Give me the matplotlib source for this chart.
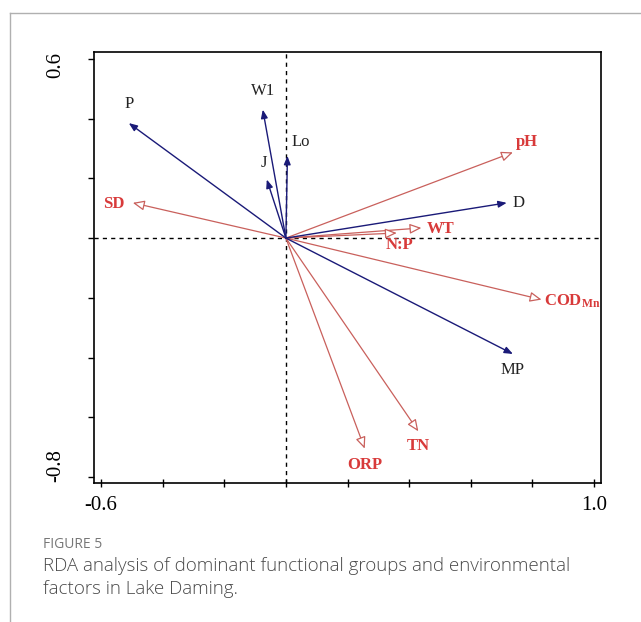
import matplotlib
matplotlib.use("Agg")
import matplotlib.pyplot as plt
from matplotlib.lines import Line2D

# species (functional groups) -- blue filled arrows
sp_names = ["P", "W1", "Lo", "J", "D", "MP"]
sp_x = [-0.51, -0.075, 0.005, -0.062, 0.717, 0.737]
sp_y = [0.385, 0.43, 0.275, 0.196, 0.118, -0.388]

# environmental factors -- red open arrows
env_names = ["pH", "WT", "N:P", "SD", "COD$_{\\mathrm{Mn}}$", "TN", "ORP"]
env_x = [0.737, 0.44, 0.36, -0.497, 0.83, 0.43, 0.256]
env_y = [0.287, 0.034, 0.017, 0.118, -0.206, -0.647, -0.705]

# label offsets (points) and alignment
sp_lab = [((0, 8), "center", "bottom"), ((0, 8), "center", "bottom"),
          ((3, 4), "left", "bottom"), ((-2, 6), "center", "bottom"),
          ((4, 0), "left", "center"), ((0, -6), "center", "top")]
env_lab = [((2, 2), "left", "bottom"), ((4, -1), "left", "center"),
           ((2, -3), "center", "top"), ((-6, -1), "right", "center"),
           ((2, -1), "left", "center"), ((0, -5), "center", "top"),
           ((0, -6), "center", "top")]

blue = "#1a1a78"
red_line = "#c9605c"
red_txt = "#d83a3a"

plt.rcParams["mathtext.fontset"] = "custom"
plt.rcParams["mathtext.rm"] = "Liberation Serif:bold"
plt.rcParams["mathtext.it"] = "Liberation Serif:bold"

fig = plt.figure(figsize=(6.41, 6.22), dpi=100)
ax = fig.add_axes([94 / 641, 1 - 483 / 622, 507 / 641, 431 / 622])

ax.set_xlim(-0.623, 1.023)
ax.set_ylim(-0.820, 0.623)
ax.axhline(0, color="black", lw=1, ls=(0, (3, 3)), zorder=1)
ax.axvline(0, color="black", lw=1, ls=(0, (3, 3)), zorder=1)

for n, x, y, (off, ha, va) in zip(env_names, env_x, env_y, env_lab):
    ax.annotate("", xy=(x, y), xytext=(0, 0),
                arrowprops=dict(arrowstyle="-|>,head_length=0.7,head_width=0.3",
                                color=red_line, fc="white", lw=0.9,
                                shrinkA=0, shrinkB=0))
    t = ax.annotate(n, xy=(x, y), xytext=off, textcoords="offset points",
                    ha=ha, va=va, color=red_txt, fontsize=12, fontweight="bold",
                    family="Liberation Serif")
    t.set_clip_on(True)

for n, x, y, (off, ha, va) in zip(sp_names, sp_x, sp_y, sp_lab):
    ax.annotate("", xy=(x, y), xytext=(0, 0),
                arrowprops=dict(arrowstyle="-|>,head_length=0.5,head_width=0.2",
                                color=blue, lw=1.0, shrinkA=0, shrinkB=0))
    ax.annotate(n, xy=(x, y), xytext=off, textcoords="offset points",
                ha=ha, va=va, color="#222222", fontsize=12,
                family="Liberation Serif")

xt = [-0.6, -0.4, -0.2, 0.0, 0.2, 0.4, 0.6, 0.8, 1.0]
yt = [0.6, 0.4, 0.2, 0.0, -0.2, -0.4, -0.6, -0.8]
ax.set_xticks(xt)
ax.set_xticklabels(["-0.6", "", "", "", "", "", "", "", "1.0"])
ax.set_yticks(yt)
ax.set_yticklabels([])
ax.tick_params(axis="x", direction="inout", length=6, width=1, pad=6,
               labelsize=15)
ax.tick_params(axis="y", direction="out", length=4, width=1)
for lab in ax.get_xticklabels():
    lab.set_family("Liberation Serif")
# y end labels, placed like the original (rotated)
ax.text(-0.075, 0.58, "0.6", transform=ax.get_yaxis_transform(), rotation=90,
        ha="center", va="center", fontsize=15, family="Liberation Serif")
ax.text(-0.075, -0.76, "-0.8", transform=ax.get_yaxis_transform(), rotation=90,
        ha="center", va="center", fontsize=15, family="Liberation Serif")
for s in ax.spines.values():
    s.set_linewidth(1.2)

# frame of the figure panel
fig.add_artist(Line2D([10 / 641, 1], [1 - 13 / 622] * 2, color="#b0b0b0", lw=1))
fig.add_artist(Line2D([10 / 641] * 2, [0, 1 - 13 / 622], color="#b0b0b0", lw=1))

fig.text(43 / 641, 1 - 545 / 622, "FIGURE 5", color="#777777", fontsize=10,
         family="Open Sans", va="center")
fig.text(43 / 641, 1 - 566 / 622,
         "RDA analysis of dominant functional groups and environmental",
         color="#4a4a4a", fontsize=13.5, family="Open Sans", fontweight="light",
         va="center")
fig.text(43 / 641, 1 - 589 / 622, "factors in Lake Daming.",
         color="#4a4a4a", fontsize=13.5, family="Open Sans", fontweight="light",
         va="center")

fig.savefig("out.png", dpi=100)
